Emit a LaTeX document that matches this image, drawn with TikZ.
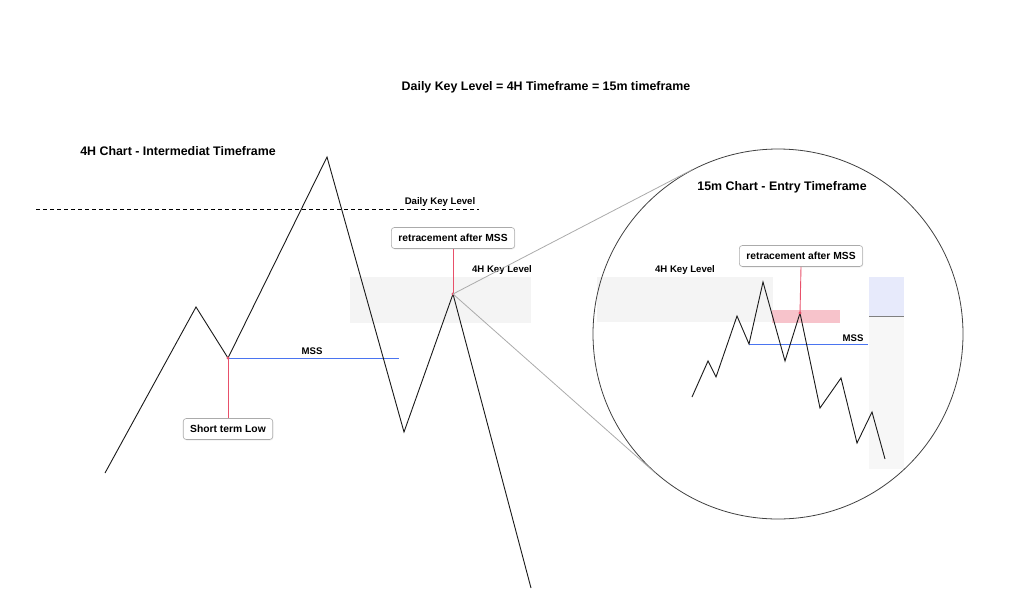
\documentclass[tikz,border=0pt]{standalone}
\usepackage{fontspec}
\setmainfont{Liberation Sans}
\usetikzlibrary{calc,shadows}
\newcommand\chartColor{black!90}
\newcommand\chartLineWidth{0.9pt}
\newcommand\circleRadiusZoom{185pt}
\newcommand\dotRadius{1.7pt}
\newcommand\textTitle{Daily Key Level = 4H Timeframe = 15m timeframe}
\newcommand\textChartFour{4H Chart - Intermediat Timeframe}
\newcommand\textChartFifteen{15m Chart - Entry Timeframe}
\newcommand\textRetrace{retracement after MSS}
\definecolor{keyZone}{HTML}{F4F4F4}
\definecolor{mssBlue}{HTML}{4A74F0}
\definecolor{markRed}{HTML}{E8506A}
\definecolor{pinkZone}{HTML}{F7C3CB}
\definecolor{blueZone}{HTML}{E7EAFB}
\definecolor{zoomGrey}{HTML}{ABABAB}

\begin{document}
\begin{tikzpicture}[x=1pt,y=-1pt,
    chart/.style={draw=\chartColor, line width=\chartLineWidth, line join=miter},
    headtext/.style={font=\bfseries\fontsize{12.4}{14}\selectfont, inner sep=0pt},
    smalltext/.style={font=\bfseries\fontsize{9.6}{11}\selectfont, inner sep=0pt},
    labelbox/.style={draw=zoomGrey, fill=white, rounded corners=3pt, line width=0.6pt,
        font=\bfseries\fontsize{10.3}{12}\selectfont, inner xsep=7pt, minimum height=21pt,
        drop shadow={opacity=0.12, shadow xshift=0.6pt, shadow yshift=-1pt}},
    reddot/.style={circle, fill=markRed, inner sep=0pt, minimum size=2*\dotRadius},
    markline/.style={draw=markRed, line width=0.9pt},
    mssline/.style={draw=mssBlue, line width=0.8pt},
    zoomline/.style={draw=zoomGrey, line width=0.8pt}]

    \useasboundingbox (0,0) rectangle (1024,611);

    % zones first, so that the lines lie on top
    \fill[keyZone] (350,277) rectangle (531,323);
    \fill[keyZone] (597,277) rectangle (773,322);
    \fill[pinkZone] (772,310) rectangle (840,323);
    \fill[blueZone] (869,277) rectangle (904,316);
    \fill[keyZone!70!white] (869,316) rectangle (904,469);
    \draw[draw=gray, line width=0.7pt] (869,316) -- (904,316);

    % titles
    \node[headtext] (mainTitle) at (546,87) {\textTitle};
    \node[headtext] (titleFour) at (178,151) {\textChartFour};
    \node[headtext] (titleFifteen) at (782,187) {\textChartFifteen};

    % 4H chart
    \coordinate (shortLow) at (228,358);
    \coordinate (keyPeak) at (453,294);
    \draw[dash pattern=on 4pt off 3pt, line width=0.7pt] (36,209) -- (479,209);
    \node[smalltext] (dailyLabel) at (440,202) {Daily Key Level};
    \node[smalltext] (keyLabelFour) at (502,270) {4H Key Level};
    \draw[mssline] (shortLow) -- (399,358);
    \node[smalltext] (mssFour) at (312,351) {MSS};
    \draw[chart] (105,473) -- (196,307) -- (shortLow) -- (327,157) -- (404,432) -- (keyPeak) -- (531,588);

    \node[labelbox] (lowBox) at (228,429) {Short term Low};
    \node[labelbox] (retraceFour) at (453,238) {\textRetrace};
    \draw[markline] (shortLow) -- (lowBox.north);
    \draw[markline] (keyPeak) -- (retraceFour.south);
    \node[reddot] (lowDot) at (shortLow) {};
    \node[reddot] (keyDot) at (keyPeak) {};

    % zoom circle with the 15m chart
    \node[circle, draw=black!75, line width=0.8pt, inner sep=0pt, minimum size=2*\circleRadiusZoom] (zoomCircle) at (778,334) {};
    \draw[zoomline] (keyDot.center) -- (tangent cs:node=zoomCircle,point={(keyPeak)},solution=1);
    \draw[zoomline] (keyDot.center) -- (tangent cs:node=zoomCircle,point={(keyPeak)},solution=2);

    \coordinate (retracePeak) at (800,313);
    \node[smalltext] (keyLabelFifteen) at (685,270) {4H Key Level};
    \draw[mssline] (749,344) -- (868,344);
    \node[smalltext] (mssFifteen) at (853,338) {MSS};
    \draw[chart] (692,397) -- (708,361) -- (716,377) -- (737,316) -- (749,344) -- (763,282) -- (785,361)
        -- (retracePeak) -- (820,408) -- (841,378) -- (857,443) -- (872,412) -- (885,459);

    \node[labelbox] (retraceFifteen) at (801,256) {\textRetrace};
    \draw[markline] (retracePeak) -- (retraceFifteen.south);
    \node[reddot] (retraceDot) at (retracePeak) {};

\end{tikzpicture}
\end{document}
